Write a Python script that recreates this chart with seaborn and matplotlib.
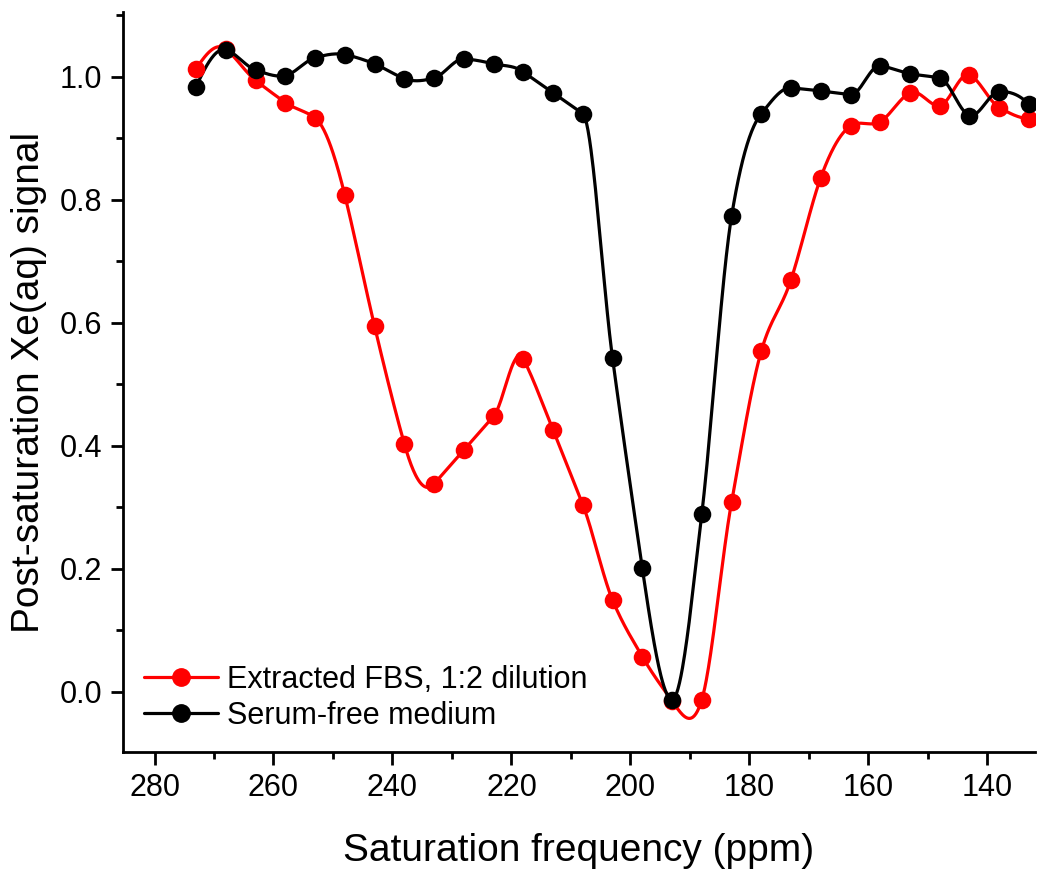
import numpy as np
import pandas as pd
import seaborn as sns
import matplotlib.pyplot as plt
from matplotlib.lines import Line2D
from matplotlib.ticker import MultipleLocator

sns.set_theme(style="ticks")
plt.rcParams['font.family'] = ['Liberation Sans', 'DejaVu Sans']
plt.rcParams['text.color'] = 'black'
plt.rcParams['axes.labelcolor'] = 'black'

# Data
freq = [273, 268, 263, 258, 253, 248, 243, 238, 233, 228, 223, 218, 213, 208, 203,
        198, 193, 188, 183, 178, 173, 168, 163, 158, 153, 148, 143, 138, 133]
fbs = [1.013, 1.045, 0.994, 0.958, 0.933, 0.807, 0.594, 0.403, 0.338, 0.393, 0.448,
       0.541, 0.425, 0.304, 0.149, 0.057, -0.015, -0.013, 0.308, 0.554, 0.670, 0.836,
       0.920, 0.927, 0.974, 0.953, 1.003, 0.950, 0.932]
serum_free = [0.984, 1.044, 1.011, 1.002, 1.031, 1.036, 1.021, 0.997, 0.998, 1.029,
              1.021, 1.008, 0.974, 0.940, 0.542, 0.201, -0.013, 0.289, 0.773, 0.940,
              0.982, 0.977, 0.971, 1.018, 1.005, 0.998, 0.937, 0.976, 0.955]
labels = ["Extracted FBS, 1:2 dilution", "Serum-free medium"]
colors = ["#ff0000", "#000000"]


def smooth_line(x, y, per_seg=40):
    # Akima-type spline connector through the points
    order = np.argsort(x)
    x = np.asarray(x, float)[order]
    y = np.asarray(y, float)[order]
    n = len(x)
    s = np.diff(y) / np.diff(x)
    s = np.concatenate([[3 * s[0] - 2 * s[1], 2 * s[0] - s[1]], s,
                        [2 * s[-1] - s[-2], 3 * s[-1] - 2 * s[-2]]])
    m = np.zeros(n)
    for i in range(n):
        w1 = abs(s[i + 3] - s[i + 2])
        w2 = abs(s[i + 1] - s[i])
        if w1 + w2 < 1e-12:
            m[i] = 0.5 * (s[i + 1] + s[i + 2])
        else:
            m[i] = (w1 * s[i + 1] + w2 * s[i + 2]) / (w1 + w2)
    xs_all, ys_all = [], []
    for i in range(n - 1):
        h = x[i + 1] - x[i]
        t = np.linspace(0, 1, per_seg, endpoint=(i == n - 2))
        h00 = 2 * t**3 - 3 * t**2 + 1
        h10 = t**3 - 2 * t**2 + t
        h01 = -2 * t**3 + 3 * t**2
        h11 = t**3 - t**2
        xs_all.append(x[i] + t * h)
        ys_all.append(h00 * y[i] + h10 * h * m[i] + h01 * y[i + 1] + h11 * h * m[i + 1])
    return np.concatenate(xs_all), np.concatenate(ys_all)


fig = plt.figure(figsize=(10.37, 8.71), dpi=100)
ax = fig.add_axes([0.1186, 0.1366, 0.8794, 0.8494])

for vals, lab, c in zip([fbs, serum_free], labels, colors):
    xs, ys = smooth_line(freq, vals)
    curve = pd.DataFrame({"x": xs, "y": ys})
    sns.lineplot(data=curve, x="x", y="y", color=c, lw=2.3, ax=ax, sort=False)
    pts = pd.DataFrame({"x": freq, "y": vals})
    sns.scatterplot(data=pts, x="x", y="y", color=c, s=160, edgecolor=c,
                    linewidth=0, ax=ax, zorder=3)

ax.set_xlim(285.3, 132)
ax.set_ylim(-0.098, 1.105)
ax.xaxis.set_major_locator(MultipleLocator(20))
ax.xaxis.set_minor_locator(MultipleLocator(10))
ax.yaxis.set_major_locator(MultipleLocator(0.2))
ax.yaxis.set_minor_locator(MultipleLocator(0.1))
ax.yaxis.set_major_formatter(plt.FormatStrFormatter('%.1f'))

sns.despine(ax=ax)
for s in ["left", "bottom"]:
    ax.spines[s].set_linewidth(2.0)
    ax.spines[s].set_color("black")
ax.tick_params(which="major", length=9, width=2.0, labelsize=22, colors="black",
               direction="out", pad=6)
ax.tick_params(which="minor", length=5, width=2.0, direction="out", colors="black")

ax.set_xlabel("Saturation frequency (ppm)", fontsize=28, labelpad=22)
ax.set_ylabel("Post-saturation Xe(aq) signal", fontsize=28, labelpad=9)

handles = [Line2D([], [], color=c, lw=2.3, marker="o", markersize=12.5) for c in colors]
ax.legend(handles, labels, loc="lower left", bbox_to_anchor=(0.0, 0.0), frameon=False,
          fontsize=22, handlelength=2.4, handletextpad=0.3, labelspacing=0.2,
          borderaxespad=0.3)

fig.savefig("out.png", dpi=100, facecolor="white")
